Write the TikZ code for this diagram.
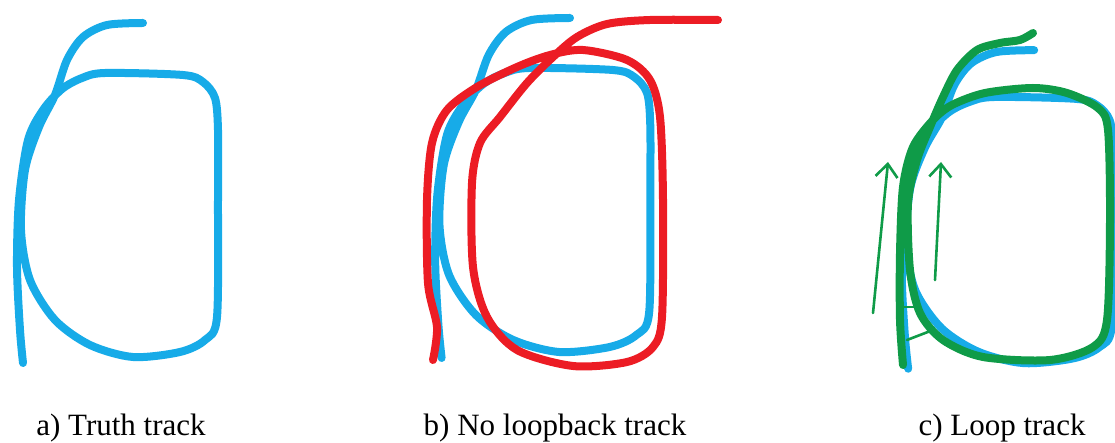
\documentclass[tikz,border=0pt]{standalone}
\usepackage{fontspec}
\setmainfont{Liberation Serif}
\usetikzlibrary{arrows.meta}
\definecolor{truth}{HTML}{17ABE8}
\definecolor{noloop}{HTML}{EC1C24}
\definecolor{loopc}{HTML}{0F9B48}
\tikzset{
  trk/.style={line width=8pt,line cap=round,line join=round},
  thin/.style={line width=2.6pt,line cap=round,draw=loopc},
  arr/.style={thin,-{Straight Barb[length=13pt,width=22pt,line width=2.6pt]}},
  lbl/.style={font=\fontsize{31}{34}\selectfont,inner sep=0pt},
  truth/.pic={\draw[trk,draw=truth] plot[smooth] coordinates {(23,363) (20,330) (17,267) (19,200) (28,140) (43,110) (62,89) (82,78) (105,73) (183,75) (203,82) (215,98) (218,130) (218,200) (217,317) (205,340) (180,352) (133,357) (90,345) (55,320) (30,280) (21,230) (25,170) (39,127) (55,95) (67,60) (83,37) (107,25) (143,23)};}
}
\begin{document}
\begin{tikzpicture}[x=1pt,y=-1pt]
 \useasboundingbox (0,0) rectangle (1115,443);
 \pic at (0,0) {truth};
 \pic[xscale=1.07] at (417,-5) {truth};
 \draw[trk,draw=noloop] plot[smooth] coordinates {(433,360) (437,327) (428,283) (427,200) (432,143) (447,110) (477,87) (517,67) (550,55) (583,50) (627,60) (650,80) (660,117) (663,200) (662,317) (653,347) (627,362) (573,366) (517,350) (487,317) (473,267) (472,183) (480,143) (500,117) (527,83) (553,57) (577,37) (607,24) (650,20) (718,20)};
 \pic[xscale=1.05,yscale=0.937] at (884,28.6) {truth};
 \draw[trk,draw=loopc] plot[smooth] coordinates {(903,365) (900,320) (900,253) (903,187) (913,147) (933,120) (952,105) (985,93) (1033,88) (1067,93) (1098,108) (1108,130) (1110,220) (1107,320) (1093,347) (1050,360) (983,357) (943,340) (920,313) (910,270) (908,203) (917,160) (930,127) (943,97) (957,70) (977,50) (1000,43) (1020,40) (1033,33)};
 \draw[thin] plot[smooth] coordinates {(925,133) (914,175) (908,225)};
 \coordinate (b1) at (903,307);
 \coordinate (b2) at (915,307);
 \coordinate (b3) at (907,340);
 \coordinate (b4) at (933,330);
 \draw[thin] (b1) -- (b2);
 \draw[thin] (b3) -- (b4);
 \coordinate (a1s) at (873,313);
 \coordinate (a1e) at (888,162);
 \coordinate (a2s) at (935,280);
 \coordinate (a2e) at (941,162);
 \draw[arr] (a1s) -- (a1e);
 \draw[arr] (a2s) -- (a2e);
 \node[lbl] (capa) at (121,428) {a) Truth track};
 \node[lbl] (capb) at (555,428) {b) No loopback track};
 \node[lbl] (capc) at (1002,428) {c) Loop track};
\end{tikzpicture}
\end{document}
